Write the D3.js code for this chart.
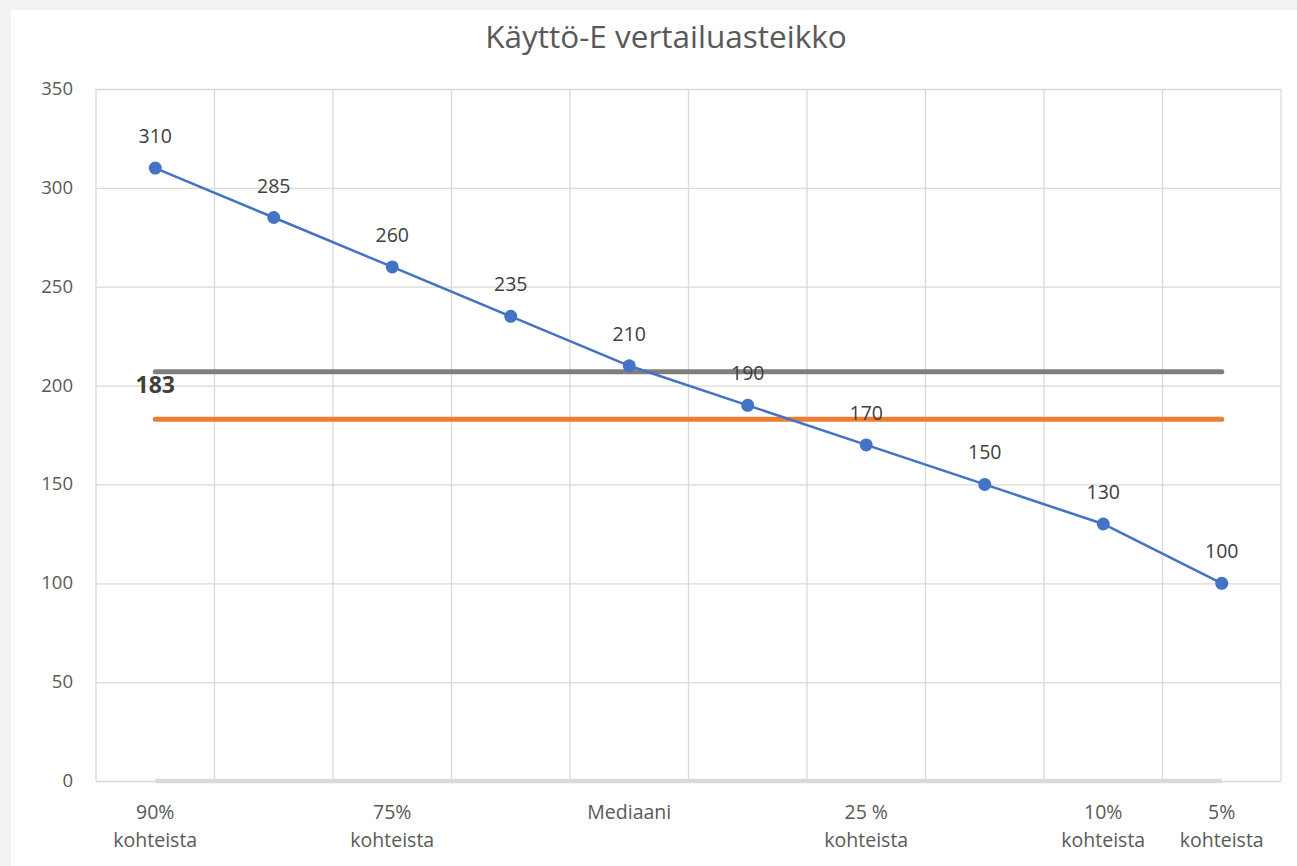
<!DOCTYPE html>
<html><head><meta charset="utf-8">
<script src="https://cdn.jsdelivr.net/npm/d3@7"></script>
<style>
html,body{margin:0;padding:0;background:#f3f3f3;}
svg{display:block;}
</style></head>
<body>
<svg id="c" width="1297" height="866"></svg>
<script>
const categories = ["90%|kohteista","","75%|kohteista","","Mediaani","","25 %|kohteista","","10%|kohteista","5%|kohteista"];
const scaleValues = [310,285,260,235,210,190,170,150,130,100];
const grayValues = [207,207,207,207,207,207,207,207,207,207];
const orangeValues = [183,183,183,183,183,183,183,183,183,183];
const zeroValues = [0,0,0,0,0,0,0,0,0,0];
const yTicks = [0,50,100,150,200,250,300,350];
const title = "Käyttö-E vertailuasteikko";
const orangeLabel = "183";

const FONT = "Open Sans, sans-serif";
const svg = d3.select("#c");
svg.append("rect").attr("x",11).attr("y",10).attr("width",1297-11).attr("height",866-10).attr("fill","#ffffff");

const L=96,R=1281,T=89,B=781;
const idx = categories.map((d,i)=>i);
const x = d3.scaleBand().domain(idx).range([L,R]).padding(0);
const cx = i => x(i)+x.bandwidth()/2;
const y = d3.scaleLinear().domain([0,350]).range([B,T]);

// horizontal gridlines
const yAxis = d3.axisLeft(y).tickValues(yTicks).tickSize(-(R-L)).tickPadding(23);
const gy = svg.append("g").attr("transform",`translate(${L},0)`).call(yAxis);
gy.select(".domain").remove();
gy.selectAll(".tick line").attr("stroke","#d9d9d9").attr("stroke-width",1.3);
gy.selectAll(".tick text").attr("fill","#595959").style("font-family",FONT).style("font-size","18.5px").attr("dy","0.3em");

// vertical gridlines at category boundaries
const bounds = idx.map(i=>x(i)).concat([R]);
svg.append("g").selectAll("line").data(bounds).join("line")
  .attr("x1",d=>d).attr("x2",d=>d).attr("y1",T).attr("y2",B)
  .attr("stroke","#d9d9d9").attr("stroke-width",1.3);

// x axis labels
const xAxis = d3.axisBottom(x).tickSize(0).tickFormat(()=>"");
const gx = svg.append("g").attr("transform",`translate(0,${B})`).call(xAxis);
gx.select(".domain").remove();
gx.selectAll(".tick").each(function(d){
  const parts = categories[d] ? categories[d].split("|") : [];
  const t = d3.select(this).append("text").attr("fill","#595959").attr("text-anchor","middle")
    .style("font-family",FONT).style("font-size","19.5px");
  parts.forEach((p,k)=>t.append("tspan").attr("x",0).attr("y",38+k*28).text(p));
});

const line = d3.line().x((d,i)=>cx(i)).y(d=>y(d));
// zero series
svg.append("path").datum(zeroValues).attr("d",line).attr("fill","none").attr("stroke","#d9d9d9").attr("stroke-width",4.5);
// gray series
svg.append("path").datum(grayValues).attr("d",line).attr("fill","none").attr("stroke","#7f7f7f").attr("stroke-width",5).attr("stroke-linecap","round");
// orange series
svg.append("path").datum(orangeValues).attr("d",line).attr("fill","none").attr("stroke","#ed7d31").attr("stroke-width",5).attr("stroke-linecap","round");
// blue series
svg.append("path").datum(scaleValues).attr("d",line).attr("fill","none").attr("stroke","#4472c4").attr("stroke-width",2.5);
svg.append("g").selectAll("circle").data(scaleValues).join("circle")
  .attr("cx",(d,i)=>cx(i)).attr("cy",d=>y(d)).attr("r",6.5).attr("fill","#4472c4");
svg.append("g").selectAll("text").data(scaleValues).join("text")
  .attr("x",(d,i)=>cx(i)).attr("y",d=>y(d)-25).attr("text-anchor","middle")
  .attr("fill","#404040").style("font-family",FONT).style("font-size","19.5px").text(d=>d);

// orange label
svg.append("text").attr("x",cx(0)).attr("y",y(orangeValues[0])-26).attr("text-anchor","middle")
  .attr("fill","#404040").style("font-family",FONT).style("font-size","23px").style("font-weight","bold").text(orangeLabel);

// title
svg.append("text").attr("x",666).attr("y",48).attr("text-anchor","middle").attr("fill","#595959")
  .style("font-family",FONT).style("font-size","31.5px").text(title);
</script>
</body></html>
